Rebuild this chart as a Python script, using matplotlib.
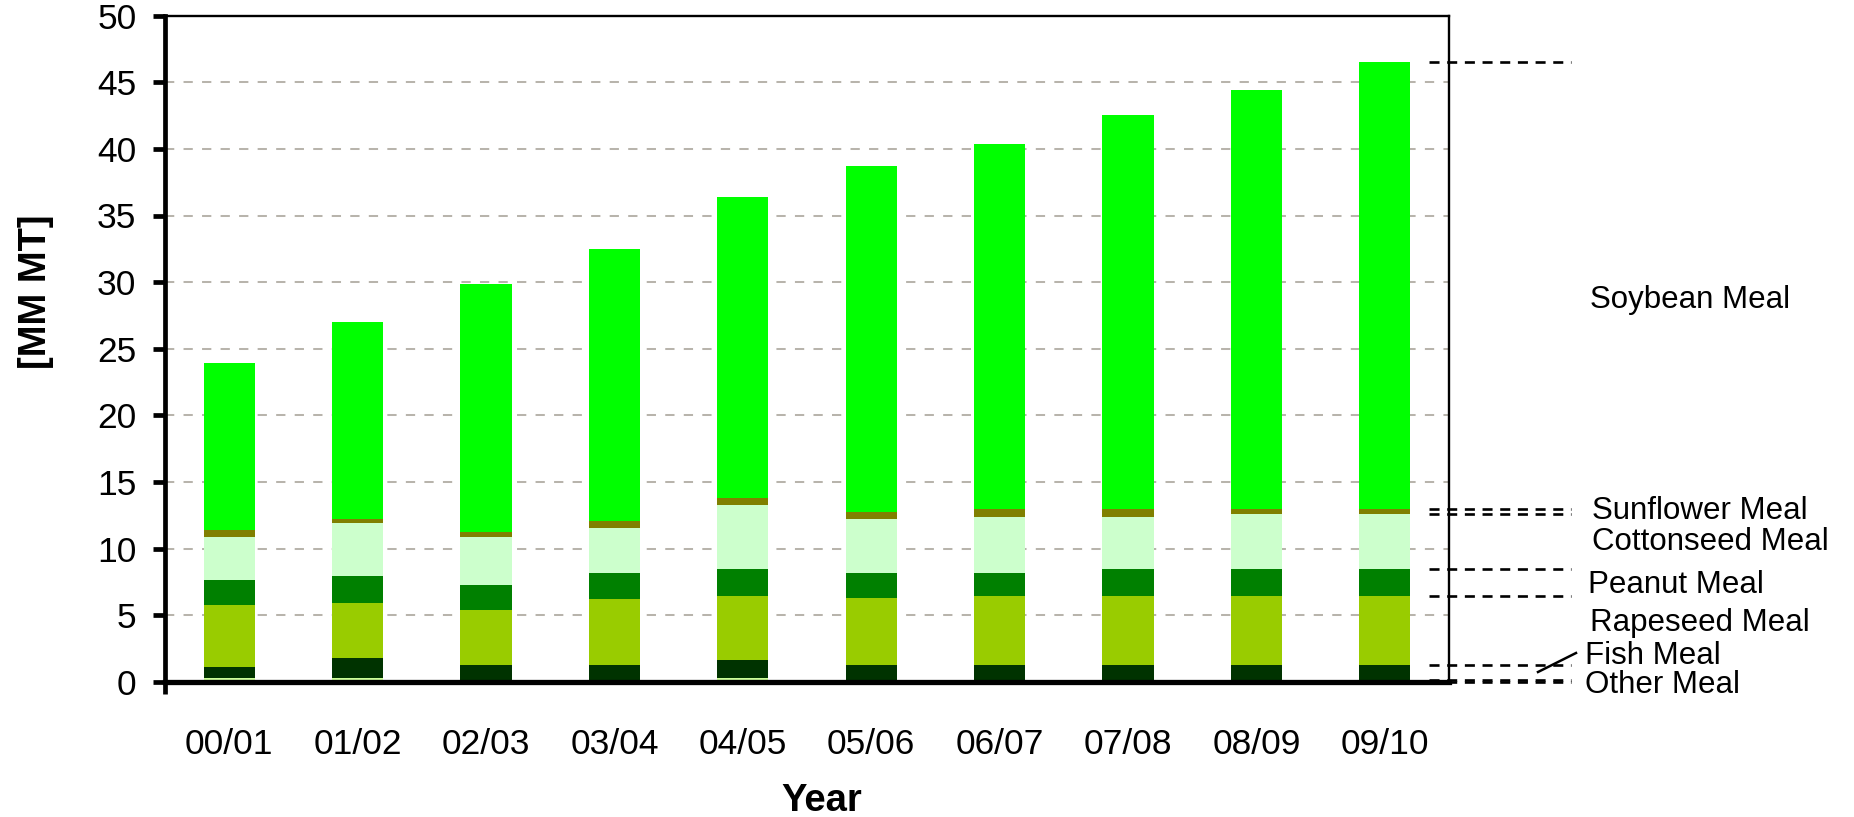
import matplotlib
matplotlib.use("Agg")
import matplotlib.pyplot as plt
import matplotlib.transforms as mtransforms
import numpy as np

plt.rcParams['font.family'] = ['Liberation Sans', 'DejaVu Sans']

# ---- data (million metric tons) ----
years = ["00/01", "01/02", "02/03", "03/04", "04/05",
         "05/06", "06/07", "07/08", "08/09", "09/10"]
other_meal      = [0.30, 0.30, 0.15, 0.15, 0.30, 0.15, 0.15, 0.15, 0.15, 0.15]
fish_meal       = [0.80, 1.48, 1.10, 1.10, 1.33, 1.10, 1.10, 1.10, 1.10, 1.10]
rapeseed_meal   = [4.66, 4.13, 4.13, 4.96, 4.80, 5.03, 5.18, 5.18, 5.18, 5.18]
peanut_meal     = [1.88, 2.03, 1.88, 1.95, 2.03, 1.85, 1.70, 2.03, 2.03, 2.03]
cottonseed_meal = [3.22, 3.97, 3.60, 3.38, 4.81, 4.08, 4.23, 3.90, 4.13, 4.13]
sunflower_meal  = [0.53, 0.30, 0.38, 0.52, 0.52, 0.53, 0.61, 0.61, 0.38, 0.38]
soybean_meal    = [12.54, 14.79, 18.63, 20.39, 22.57, 26.01, 27.38, 29.60, 31.46, 33.59]

series_names = ["Other Meal", "Fish Meal", "Rapeseed Meal", "Peanut Meal",
                "Cottonseed Meal", "Sunflower Meal", "Soybean Meal"]
series_values = [other_meal, fish_meal, rapeseed_meal, peanut_meal,
                 cottonseed_meal, sunflower_meal, soybean_meal]
series_colors = ["#CCFF99", "#003300", "#99CC00", "#008000",
                 "#CCFFCC", "#808000", "#00FF00"]

yticks = [0, 5, 10, 15, 20, 25, 30, 35, 40, 45, 50]

W, H = 1854, 817
fig = plt.figure(figsize=(W / 100, H / 100), dpi=100)


def fx(px):
    return px / W


def fy(py):
    return 1 - py / H


ax = fig.add_axes([fx(165), fy(681.7), fx(1449) - fx(165), (681.7 - 15.7) / H])

x = np.arange(len(years))
bottom = np.zeros(len(years))
for name, vals, col in zip(series_names, series_values, series_colors):
    vals = np.asarray(vals)
    ax.bar(x, vals, width=0.4, bottom=bottom, color=col, edgecolor='none',
           linewidth=0, zorder=2, label=name)
    bottom = bottom + vals

ax.set_xlim(-0.5, len(years) - 0.5)
ax.set_ylim(0, 50)
ax.set_yticks(yticks)
ax.set_yticklabels([str(v) for v in yticks])
ax.set_xticks(x)
ax.set_xticklabels(years)
ax.set_xticks([-0.5], minor=True)

ax.tick_params(axis='y', which='major', direction='out', length=8.6, width=3.4,
               pad=12, labelsize=25.5, color='black')
ax.tick_params(axis='x', which='major', length=0, pad=33, labelsize=25.5)
ax.tick_params(axis='x', which='minor', direction='out', length=8.6, width=3.4)

# horizontal gridlines behind the bars
for v in yticks[1:-1]:
    ax.axhline(v, color='#B8B4AC', linewidth=1.45, linestyle=(0, (4.6, 4.6)),
               zorder=1)

for side in ('top', 'right'):
    ax.spines[side].set_linewidth(1.7)
ax.spines['left'].set_linewidth(3.4)
ax.spines['bottom'].set_linewidth(3.8)
for sp in ax.spines.values():
    sp.set_zorder(5)

# leader lines at the boundaries of the last bar
last_levels = np.concatenate([[0], np.cumsum([v[-1] for v in series_values])])
blend = mtransforms.blended_transform_factory(fig.transFigure, ax.transData)
for lvl in last_levels:
    ax.plot([fx(1429), fx(1571)], [lvl, lvl], transform=blend, color='black',
            linewidth=1.9, linestyle=(0, (3.8, 2.9)), clip_on=False, zorder=6)

# series labels on the right
label_pos = {
    "Soybean Meal": (1590, 308),
    "Sunflower Meal": (1592, 519),
    "Cottonseed Meal": (1592, 550),
    "Peanut Meal": (1588, 593),
    "Rapeseed Meal": (1590, 631),
    "Fish Meal": (1585, 664),
    "Other Meal": (1585, 693),
}
for name, (px, py) in label_pos.items():
    fig.text(fx(px), fy(py), name, fontsize=22.5, ha='left', va='baseline')

# short pointer to the Fish Meal label
fig.add_artist(plt.Line2D([fx(1538), fx(1576)], [fy(672), fy(653)],
                          color='black', linewidth=1.8))

fig.text(fx(822), fy(811), "Year", fontsize=27.5, fontweight='bold',
         ha='center', va='baseline')
fig.text(fx(35.7), fy(291.5), "[MM MT]", fontsize=27.5, fontweight='bold',
         rotation=90, ha='center', va='center')

fig.savefig("out.png", dpi=100, facecolor='white')
